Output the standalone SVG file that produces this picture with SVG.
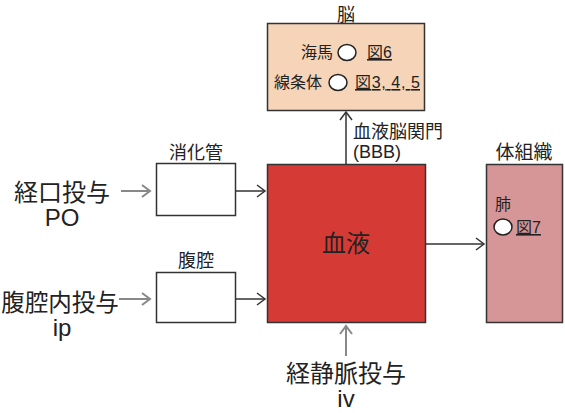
<svg xmlns="http://www.w3.org/2000/svg" width="565" height="413" viewBox="0 0 565 413">
<style>
text{font-family:"Liberation Sans","Noto Sans CJK JP",sans-serif;fill:#222}
.box{stroke:#333;stroke-width:1.5}
.k{stroke:#333;stroke-width:1.5;fill:none}
.g{stroke:#888;stroke-width:2;fill:none}
.u{text-decoration:underline}
</style>
<defs>
<marker id="ak" markerUnits="userSpaceOnUse" markerWidth="14" markerHeight="14" refX="10" refY="7" orient="auto">
<path d="M2,1 L10,7 L2,13" fill="none" stroke="#333" stroke-width="1.5"/>
</marker>
<marker id="ag" markerUnits="userSpaceOnUse" markerWidth="14" markerHeight="14" refX="10" refY="7" orient="auto">
<path d="M2,1 L10,7 L2,13" fill="none" stroke="#888" stroke-width="2"/>
</marker>
</defs>
<g id="connectors">
<line class="g" x1="121" y1="191" x2="150" y2="191" marker-end="url(#ag)"/>
<line class="k" x1="235" y1="191" x2="265" y2="191" marker-end="url(#ak)"/>
<line class="g" x1="119" y1="299" x2="150" y2="299" marker-end="url(#ag)"/>
<line class="k" x1="235" y1="299" x2="265" y2="299" marker-end="url(#ak)"/>
<line class="k" x1="346" y1="164" x2="346" y2="112" marker-end="url(#ak)"/>
<line class="g" x1="346" y1="356" x2="346" y2="326" marker-end="url(#ag)"/>
<line class="k" x1="426" y1="244" x2="484" y2="244" marker-end="url(#ak)"/>
</g>
<g id="brain">
<rect class="box" x="267.5" y="23.5" width="157" height="87" fill="#f6d4b8"/>
<text x="346" y="21" font-size="18" text-anchor="middle">脳</text>
<text x="301" y="58" font-size="16">海馬</text>
<ellipse cx="347" cy="52.5" rx="9" ry="8" fill="#fff" stroke="#222" stroke-width="1.5"/>
<text x="367" y="58" font-size="16" class="u">図6</text>
<text x="274" y="88" font-size="16">線条体</text>
<ellipse cx="338" cy="82.5" rx="9" ry="8" fill="#fff" stroke="#222" stroke-width="1.5"/>
<text x="355" y="88" font-size="16" class="u" textLength="65">図3, 4, 5</text>
</g>
<g id="digestive">
<rect class="box" x="156.5" y="163.5" width="79" height="52" fill="#fff"/>
<text x="196" y="159" font-size="18" text-anchor="middle">消化管</text>
</g>
<g id="peritoneum">
<rect class="box" x="156.5" y="272.5" width="79" height="50" fill="#fff"/>
<text x="196" y="267" font-size="18" text-anchor="middle">腹腔</text>
</g>
<g id="blood">
<rect class="box" x="267.5" y="164.5" width="158" height="158" fill="#d63a35"/>
<text x="346" y="252" font-size="24" text-anchor="middle">血液</text>
<text x="353" y="138" font-size="18">血液脳関門</text>
<text x="353" y="158" font-size="18">(BBB)</text>
</g>
<g id="tissue">
<rect class="box" x="486.5" y="164.5" width="76" height="158" fill="#d69596"/>
<text x="524" y="159" font-size="19" text-anchor="middle">体組織</text>
<text x="495" y="210" font-size="16">肺</text>
<ellipse cx="503" cy="227" rx="9" ry="8" fill="#fff" stroke="#222" stroke-width="1.5"/>
<text x="516" y="233" font-size="16" class="u">図7</text>
</g>
<g id="po">
<text x="62" y="201" font-size="24" text-anchor="middle">経口投与</text>
<text x="62" y="226" font-size="24" text-anchor="middle">PO</text>
</g>
<g id="ip">
<text x="60" y="311" font-size="23.5" text-anchor="middle">腹腔内投与</text>
<text x="62" y="336" font-size="24" text-anchor="middle">ip</text>
</g>
<g id="iv">
<text x="346" y="382" font-size="24" text-anchor="middle">経静脈投与</text>
<text x="346" y="407" font-size="24" text-anchor="middle">iv</text>
</g>
</svg>
